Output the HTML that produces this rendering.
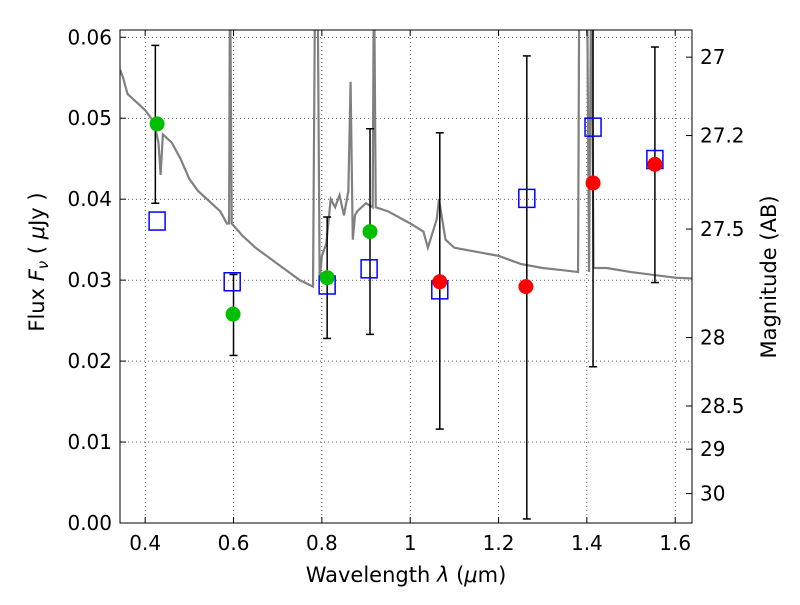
<!DOCTYPE html>
<html><head><meta charset="utf-8"><style>
body{margin:0;background:#fff;}
svg{font-family:"DejaVu Sans","Liberation Sans",sans-serif;}
</style></head><body>
<svg id="c" width="800" height="600"></svg>
<script>
const xTicks=[0.4,0.6,0.8,1,1.2,1.4,1.6];
const xTickLabels=["0.4","0.6","0.8","1","1.2","1.4","1.6"];
const yTicks=[0,0.01,0.02,0.03,0.04,0.05,0.06];
const yTickLabels=["0.00","0.01","0.02","0.03","0.04","0.05","0.06"];
const magTicks=[27,27.2,27.5,28,28.5,29,30];
const magTickLabels=["27","27.2","27.5","28","28.5","29","30"];
const specWave=[0.343,0.35,0.36,0.38,0.40,0.42,0.43,0.435,0.44,0.46,0.48,0.50,0.52,0.55,0.57,0.585,0.59,0.592,0.596,0.62,0.65,0.70,0.75,0.78,0.785,0.79,0.795,0.80,0.81,0.82,0.83,0.84,0.85,0.86,0.865,0.87,0.875,0.88,0.90,0.915,0.918,0.922,0.95,1.0,1.03,1.04,1.06,1.065,1.08,1.10,1.15,1.20,1.25,1.30,1.35,1.38,1.383,1.40,1.405,1.41,1.415,1.445,1.5,1.6,1.64];
const specFlux=[0.056,0.055,0.053,0.052,0.051,0.0495,0.047,0.043,0.048,0.047,0.045,0.0425,0.041,0.0395,0.0385,0.037,0.037,0.07,0.037,0.0355,0.034,0.032,0.030,0.0292,0.07,0.07,0.030,0.033,0.0345,0.040,0.039,0.0405,0.038,0.041,0.0545,0.035,0.038,0.0385,0.0395,0.039,0.07,0.039,0.0385,0.037,0.036,0.034,0.0375,0.040,0.035,0.034,0.0335,0.033,0.032,0.0315,0.0312,0.031,0.07,0.07,0.031,0.07,0.0315,0.0315,0.031,0.0303,0.0302];
const greenWave=[0.427,0.599,0.812,0.909];
const greenFlux=[0.0493,0.0258,0.0303,0.036];
const redWave=[1.067,1.262,1.414,1.554];
const redFlux=[0.0298,0.0292,0.042,0.0443];
const modelWave=[0.427,0.597,0.812,0.907,1.067,1.264,1.414,1.554];
const modelFlux=[0.0373,0.0298,0.0294,0.0314,0.0288,0.0401,0.0489,0.0449];
const errWave=[0.423,0.600,0.812,0.909,1.067,1.264,1.414,1.554];
const errLow=[0.0395,0.0207,0.0228,0.0233,0.0116,0.0005,0.0193,0.0297];
const errHigh=[0.059,0.0307,0.0378,0.0487,0.0482,0.0577,0.0625,0.0588];

const L=120,R=692,T=30,B=523,X0=0.343,X1=1.638,Y0=0,Y1=0.0609;
const sx=v=>L+(v-X0)/(X1-X0)*(R-L);
const sy=v=>B-(v-Y0)/(Y1-Y0)*(B-T);
const magToFlux=m=>Math.pow(10,(23.9-m)/2.5);
const svg=document.getElementById('c');
const NS='http://www.w3.org/2000/svg';
function mk(tag,attrs,parent){const e=document.createElementNS(NS,tag);for(const k in attrs)e.setAttribute(k,attrs[k]);(parent||svg).appendChild(e);return e;}
const defs=mk('defs',{});const cp=mk('clipPath',{id:'clip'},defs);mk('rect',{x:L,y:T,width:R-L,height:B-T},cp);
const plot=mk('g',{'clip-path':'url(#clip)'});


xTicks.forEach(v=>{const l=mk('line',{x1:sx(v),x2:sx(v),y1:T,y2:B,stroke:'#000','stroke-width':0.6,'stroke-dasharray':'1,3'},plot);

});
yTicks.forEach(v=>{const l=mk('line',{x1:L,x2:R,y1:sy(v),y2:sy(v),stroke:'#000','stroke-width':0.6,'stroke-dasharray':'1,3'},plot);

});
const sp=mk('polyline',{points:specWave.map((w,i)=>sx(w)+','+sy(specFlux[i])).join(' '),fill:'none',stroke:'#808080','stroke-width':2.2},plot);


errWave.forEach((w,i)=>{const g=mk('g',{stroke:'#000','stroke-width':1.5},plot);


const x=sx(w);mk('line',{x1:x,x2:x,y1:sy(errLow[i]),y2:sy(errHigh[i])},g);
mk('line',{x1:x-4,x2:x+4,y1:sy(errLow[i]),y2:sy(errLow[i])},g);
mk('line',{x1:x-4,x2:x+4,y1:sy(errHigh[i]),y2:sy(errHigh[i])},g);});
modelWave.forEach((w,i)=>{const r=mk('rect',{x:sx(w)-8,y:sy(modelFlux[i])-9,width:16,height:18,fill:'none',stroke:'#0000ff','stroke-width':1.5},plot);

});
greenWave.forEach((w,i)=>{const c=mk('circle',{cx:sx(w),cy:sy(greenFlux[i]),r:7.5,fill:'#00bf00'},plot);

});
redWave.forEach((w,i)=>{const c=mk('circle',{cx:sx(w),cy:sy(redFlux[i]),r:7.5,fill:'#ff0000'},plot);

});
const fr=mk('rect',{x:L,y:T,width:R-L,height:B-T,fill:'none',stroke:'#000','stroke-width':1});


xTicks.forEach((v,i)=>{const x=sx(v);mk('line',{x1:x,x2:x,y1:B,y2:B-6,stroke:'#000'});mk('line',{x1:x,x2:x,y1:T,y2:T+6,stroke:'#000'});
const t=mk('text',{x:x,y:B+27,'font-size':20,'text-anchor':'middle'});t.textContent=xTickLabels[i];

});
yTicks.forEach((v,i)=>{const y=sy(v);mk('line',{x1:L,x2:L+6,y1:y,y2:y,stroke:'#000'});
const t=mk('text',{x:L-8,y:y+7,'font-size':20,'text-anchor':'end'});t.textContent=yTickLabels[i];

});
magTicks.forEach((m,i)=>{const y=sy(magToFlux(m));mk('line',{x1:R,x2:R-6,y1:y,y2:y,stroke:'#000'});
const t=mk('text',{x:R+8,y:y+7,'font-size':20});t.textContent=magTickLabels[i];

});
const xt=mk('text',{x:406,y:582,'font-size':21,'text-anchor':'middle'});xt.innerHTML='Wavelength  <tspan font-style="italic">λ</tspan> (<tspan font-style="italic">μ</tspan>m)';


const yt=mk('text',{x:0,y:0,'font-size':21,'text-anchor':'middle',transform:'translate(44,262) rotate(-90)'});yt.innerHTML='Flux  <tspan font-style="italic">F</tspan><tspan font-style="italic" font-size="15" dy="4">ν</tspan><tspan dy="-4">  (  </tspan><tspan font-style="italic">μ</tspan>Jy )';


const rt=mk('text',{x:0,y:0,'font-size':21,'text-anchor':'middle',transform:'translate(776,277) rotate(-90)'});rt.textContent='Magnitude (AB)';


</script>
</body></html>
